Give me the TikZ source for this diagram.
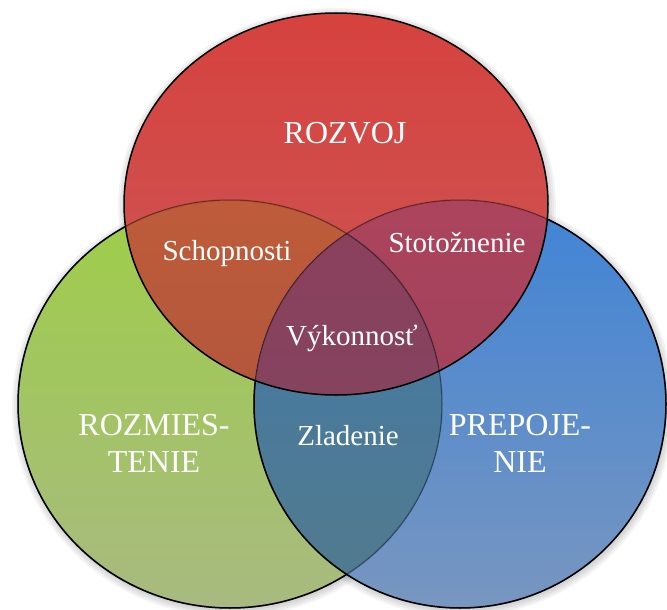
\documentclass[tikz,border=0pt]{standalone}
\usepackage{fontspec}
\setmainfont{Liberation Serif}
\definecolor{redT}{RGB}{214,66,62}
\definecolor{redB}{RGB}{202,88,88}
\definecolor{greenT}{RGB}{158,206,72}
\definecolor{greenB}{RGB}{168,186,128}
\definecolor{blueT}{RGB}{64,132,214}
\definecolor{blueB}{RGB}{120,150,192}
\definecolor{rgT}{RGB}{190,92,58}
\definecolor{rgB}{RGB}{165,80,62}
\definecolor{rbT}{RGB}{172,68,92}
\definecolor{rbB}{RGB}{150,64,92}
\definecolor{gbT}{RGB}{66,122,170}
\definecolor{gbB}{RGB}{82,122,140}
\definecolor{allT}{RGB}{140,64,92}
\definecolor{allB}{RGB}{125,70,96}
\tikzset{
  lbl/.style={text=white, font=\fontsize{29}{34}\selectfont, inner sep=0pt},
  biglbl/.style={text=white, font=\fontsize{32}{37}\selectfont, align=center, inner sep=0pt},
  rim/.style={line width=1.5pt, black},
  softrim/.style={line width=1.5pt, black, opacity=0.3},
  shadowring/.style={fill=black, opacity=0.045}
}
\begin{document}
\begin{tikzpicture}[x=1pt,y=-1pt]
\useasboundingbox (0,0) rectangle (667,610);
\def\RedE{(336,204) ellipse [x radius=212pt, y radius=191pt]}
\def\GreenE{(230,404) ellipse [x radius=212pt, y radius=204pt]}
\def\BlueE{(460,404) ellipse [x radius=206pt, y radius=204pt]}
\def\BigR{(-20,-20) rectangle (690,630)}
% soft shadows
\foreach \d in {1,3,5,7} {
  \fill[shadowring] (337,206) ellipse [x radius={(212+\d)*1pt}, y radius={(191+\d)*1pt}];
  \fill[shadowring] (231,406) ellipse [x radius={(212+\d)*1pt}, y radius={(204+\d)*1pt}];
  \fill[shadowring] (461,406) ellipse [x radius={(206+\d)*1pt}, y radius={(204+\d)*1pt}];
}
% base fills
\fill[top color=greenT, bottom color=greenB] \GreenE;
\fill[top color=blueT, bottom color=blueB] \BlueE;
\fill[top color=redT, bottom color=redB] \RedE;
% overlaps
\begin{scope}
  \clip \RedE;
  \fill[top color=rgT, bottom color=rgB] \GreenE;
\end{scope}
\begin{scope}
  \clip \RedE;
  \fill[top color=rbT, bottom color=rbB] \BlueE;
\end{scope}
\begin{scope}
  \clip \GreenE;
  \fill[top color=gbT, bottom color=gbB] \BlueE;
\end{scope}
\begin{scope}
  \clip \RedE;
  \clip \GreenE;
  \fill[top color=allT, bottom color=allB] \BlueE;
\end{scope}
% outlines
\draw[softrim] \GreenE;
\draw[softrim] \BlueE;
\begin{scope}[even odd rule]
  \clip \RedE \BigR;
  \draw[rim] \BlueE;
\end{scope}
\begin{scope}[even odd rule]
  \clip \RedE \BigR;
  \clip \BlueE \BigR;
  \draw[rim] \GreenE;
\end{scope}
\draw[rim] \RedE;
% labels
\node[biglbl, anchor=base] (rozvoj) at (345,143) {ROZVOJ};
\node[lbl, anchor=base] (schop) at (227,260) {Schopnosti};
\node[lbl, anchor=base] (stot) at (457,252) {Stotožnenie};
\node[lbl, anchor=base] (vyk) at (352,345) {Výkonnosť};
\node[lbl, anchor=base] (zlad) at (348,445) {Zladenie};
\node[biglbl] (rozm) at (154,443) {ROZMIES-\\TENIE};
\node[biglbl] (prep) at (520,443) {PREPOJE-\\NIE};
\end{tikzpicture}
\end{document}
